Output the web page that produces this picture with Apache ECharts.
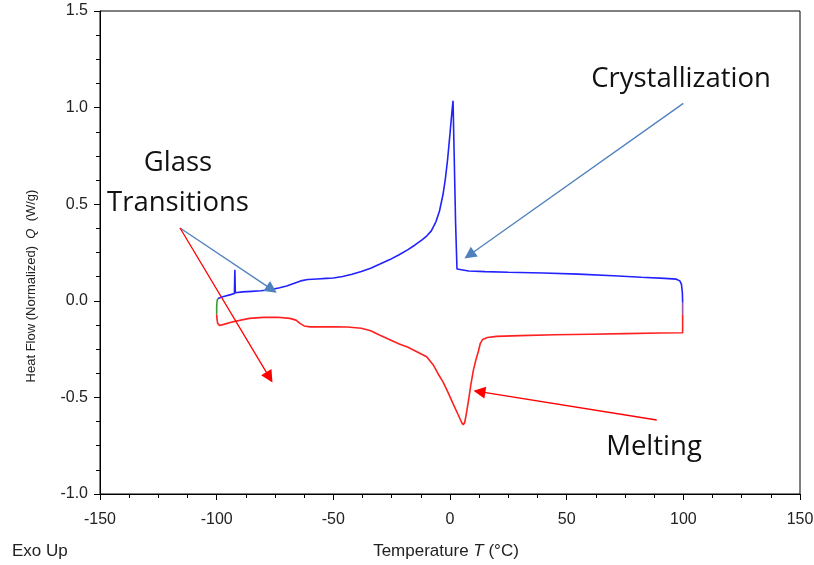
<!DOCTYPE html>
<html>
<head>
<meta charset="utf-8">
<script src="https://cdn.jsdelivr.net/npm/echarts@6/dist/echarts.min.js"></script>
<style>
  html, body { margin: 0; padding: 0; background: #fff; }
  #chart { width: 814px; height: 565px; }
</style>
</head>
<body>
<div id="chart"></div>
<script>
// DSC thermogram: temperature (°C) vs normalized heat flow (W/g), exo up

// Cooling trace (blue)
const coolingTrace = [
  [-99.5, 0.012], [-97, 0.022], [-94, 0.032], [-92.4, 0.038], [-92.2, 0.16], [-92.0, 0.042],
  [-89, 0.046], [-85, 0.049], [-81, 0.052], [-77, 0.057], [-73, 0.068], [-70, 0.077],
  [-67, 0.09], [-64, 0.103], [-61, 0.11], [-57, 0.113], [-53, 0.116], [-50, 0.118],
  [-46, 0.126], [-42, 0.137], [-38, 0.152], [-34, 0.169], [-30, 0.19], [-26, 0.212],
  [-22, 0.237], [-18, 0.265], [-15, 0.289], [-12, 0.315], [-10, 0.335], [-8, 0.362],
  [-6, 0.41], [-4.5, 0.465], [-3, 0.55], [-2, 0.63], [-1, 0.735], [0, 0.865],
  [0.8, 0.975], [1.3, 1.035], [1.8, 0.75], [2.4, 0.4], [3.0, 0.165], [3.6, 0.156],
  [8, 0.154], [15, 0.151], [25, 0.148], [40, 0.144], [55, 0.138], [70, 0.13],
  [82, 0.122], [92, 0.116], [97, 0.112], [98.5, 0.103], [99.2, 0.085], [99.6, 0.04],
  [99.7, -0.01]
];

// Isothermal hold at 100 °C (transition between traces)
const holdTrace = [[99.7, -0.01], [99.7, -0.07]];

// Heating trace (red)
const heatingTrace = [
  [99.7, -0.07], [99.7, -0.165], [90, -0.167], [75, -0.17], [60, -0.173], [45, -0.176],
  [30, -0.18], [20, -0.184], [16, -0.19], [14, -0.2], [13, -0.22], [12.2, -0.26],
  [11, -0.31], [10, -0.36], [9, -0.43], [8, -0.51], [7, -0.585], [6.3, -0.63],
  [5.7, -0.642], [5, -0.63], [3.5, -0.59], [1.4, -0.535], [-1, -0.47], [-3, -0.42],
  [-5, -0.38], [-7, -0.335], [-10, -0.29], [-14, -0.265], [-18, -0.24], [-22, -0.222],
  [-26, -0.2], [-30, -0.178], [-34, -0.155], [-38, -0.142], [-44, -0.136], [-50, -0.134],
  [-55, -0.135], [-60, -0.135], [-62.5, -0.13], [-64.3, -0.117], [-66, -0.1],
  [-68.6, -0.091], [-74, -0.085], [-80, -0.086], [-86, -0.091], [-93, -0.108],
  [-97, -0.122], [-98.8, -0.128], [-99.6, -0.115], [-99.9, -0.09], [-100, -0.07]
];

// Isothermal hold at -100 °C (green)
const startHold = [[-100, -0.07], [-100, -0.03], [-99.8, 0.0], [-99.5, 0.012]];

// Annotation arrows: [startX, startY, endX, endY]
const glassArrowBlue = [-115.7, 0.377, -76.4, 0.059];
const glassArrowRed = [-115.7, 0.377, -77.4, -0.396];
const crystArrow = [100, 1.022, 8.3, 0.237];
const meltArrow = [88.6, -0.617, 12.6, -0.47];

const xTicks = { min: -150, max: 150, interval: 50 };
const yTicks = { min: -1.0, max: 1.5, interval: 0.5 };

const chart = echarts.init(document.getElementById('chart'), null, { renderer: 'canvas' });

const sans = 'Liberation Sans, Arial, sans-serif';
const tickFont = { fontFamily: sans, fontSize: 16, color: '#222' };
const noteFont = 'Open Sans, Noto Sans, sans-serif';

function arrow(a, color) {
  return {
    type: 'lines',
    coordinateSystem: 'cartesian2d',
    silent: true,
    symbol: ['none', 'triangle'],
    symbolSize: [0, 12],
    lineStyle: { color: color, width: 1.3, opacity: 1 },
    itemStyle: { color: color },
    data: [{ coords: [[a[0], a[1]], [a[2], a[3]]] }],
    z: 5
  };
}

function trace(data, color) {
  return {
    type: 'line',
    data: data,
    showSymbol: false,
    silent: true,
    smooth: false,
    lineStyle: { color: color, width: 1.6 },
    itemStyle: { color: color },
    z: 3
  };
}

chart.setOption({
  animation: false,
  backgroundColor: '#fff',
  grid: {
    left: 100, right: 14, top: 11, bottom: 71,
    outerBoundsMode: 'none', containLabel: false,
    show: true, borderColor: '#000', borderWidth: 1, backgroundColor: 'transparent'
  },
  xAxis: {
    type: 'value',
    min: xTicks.min, max: xTicks.max, interval: xTicks.interval,
    axisLine: { onZero: false, lineStyle: { color: '#000', width: 1 } },
    axisTick: { show: true, length: 6, lineStyle: { color: '#000' } },
    minorTick: { show: true, splitNumber: 4, length: 4, lineStyle: { color: '#000' } },
    splitLine: { show: false },
    axisLabel: Object.assign({ margin: 18, hideOverlap: false }, tickFont)
  },
  yAxis: {
    type: 'value',
    min: yTicks.min, max: yTicks.max, interval: yTicks.interval,
    axisLine: { onZero: false, lineStyle: { color: '#000', width: 1 } },
    axisTick: { show: true, length: 6, lineStyle: { color: '#000' } },
    minorTick: { show: true, splitNumber: 4, length: 4, lineStyle: { color: '#000' } },
    splitLine: { show: false },
    axisLabel: Object.assign({ margin: 12, formatter: v => v.toFixed(1) }, tickFont)
  },
  series: [
    trace(heatingTrace, '#ff2020'),
    trace(coolingTrace, '#2222ff'),
    trace(holdTrace, '#9a55a8'),
    trace(startHold, '#3a9a3a'),
    arrow(glassArrowBlue, '#4f81bd'),
    arrow(crystArrow, '#4f81bd'),
    arrow(glassArrowRed, '#ff0000'),
    arrow(meltArrow, '#ff0000')
  ],
  graphic: [
    { type: 'text', x: 681, y: 79, style: { text: 'Crystallization', font: '27.5px ' + noteFont, fill: '#111', align: 'center', verticalAlign: 'middle' } },
    { type: 'text', x: 178, y: 163, style: { text: 'Glass', font: '27.5px ' + noteFont, fill: '#111', align: 'center', verticalAlign: 'middle' } },
    { type: 'text', x: 178, y: 203, style: { text: 'Transitions', font: '27.5px ' + noteFont, fill: '#111', align: 'center', verticalAlign: 'middle' } },
    { type: 'text', x: 654, y: 447, style: { text: 'Melting', font: '27.5px ' + noteFont, fill: '#111', align: 'center', verticalAlign: 'middle' } },
    { type: 'text', x: 12, y: 551, style: { text: 'Exo Up', font: '17px ' + sans, fill: '#222', align: 'left', verticalAlign: 'middle' } },
    {
      type: 'text', x: 446, y: 551,
      style: {
        text: 'Temperature {i|T} (°C)',
        font: '17px ' + sans, fill: '#222', align: 'center', verticalAlign: 'middle',
        rich: { i: { fontStyle: 'italic', fontSize: 17, fontFamily: sans, fill: '#222' } }
      }
    },
    {
      type: 'text', x: 31, y: 286, rotation: Math.PI / 2,
      style: {
        text: 'Heat Flow (Normalized)  {i|Q}  (W/g)',
        font: '13px ' + sans, fill: '#222', align: 'center', verticalAlign: 'middle',
        rich: { i: { fontStyle: 'italic', fontSize: 13, fontFamily: sans, fill: '#222' } }
      }
    }
  ]
});
</script>
</body>
</html>
